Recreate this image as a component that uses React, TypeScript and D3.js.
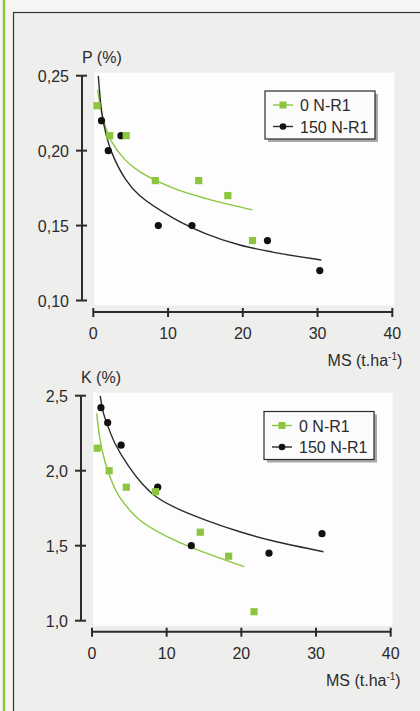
import React from "react";
import * as d3 from "d3";

// P (%) chart – measured points
const pGreenX = [0.5, 2.2, 4.4, 8.3, 14.1, 18.0, 21.3];
const pGreenY = [0.23, 0.21, 0.21, 0.18, 0.18, 0.17, 0.14];
const pBlackX = [1.1, 2.0, 3.7, 8.7, 13.2, 23.3, 30.3];
const pBlackY = [0.22, 0.2, 0.21, 0.15, 0.15, 0.14, 0.12];
// P (%) chart – fitted curves
const pGreenFitX = [0.58, 1.33, 2.45, 4.23, 6.2, 10.7, 15.1, 21.3];
const pGreenFitY = [0.2405, 0.221, 0.206, 0.194, 0.186, 0.175, 0.168, 0.1605];
const pBlackFitX = [0.67, 1.12, 1.65, 2.45, 4.3, 6.2, 10.7, 15.1, 19.6, 24.0, 30.5];
const pBlackFitY = [0.25, 0.226, 0.212, 0.199, 0.181, 0.17, 0.155, 0.1445, 0.137, 0.1323, 0.127];

// K (%) chart – measured points
const kGreenX = [0.7, 2.3, 4.6, 8.5, 14.5, 18.3, 21.7];
const kGreenY = [2.15, 2.0, 1.89, 1.86, 1.59, 1.43, 1.06];
const kBlackX = [1.2, 2.1, 3.9, 8.8, 13.3, 23.7, 30.8];
const kBlackY = [2.42, 2.32, 2.17, 1.89, 1.5, 1.45, 1.58];
// K (%) chart – fitted curves
const kGreenFitX = [0.63, 1.07, 1.74, 2.64, 3.75, 6.43, 10.9, 15.4, 20.4];
const kGreenFitY = [2.383, 2.21, 2.06, 1.93, 1.82, 1.67, 1.54, 1.449, 1.36];
const kBlackFitX = [1.1, 1.5, 2.1, 3.1, 4.9, 6.6, 8.5, 10.9, 15.4, 19.8, 24.3, 31.0];
const kBlackFitY = [2.5, 2.39, 2.3, 2.18, 2.03, 1.92, 1.83, 1.76, 1.667, 1.593, 1.531, 1.46];

const xTicks = [0, 10, 20, 30, 40];
const pTicks = [0.1, 0.15, 0.2, 0.25];
const kTicks = [1.0, 1.5, 2.0, 2.5];
const seriesNames = ["0 N-R1", "150 N-R1"];

const GREEN = "#8cc63f";
const INK = "#2b2b2b";
const FONT = "'Liberation Sans', Arial, Helvetica, sans-serif";

const zip = (xs, ys) => xs.map((x, i) => [x, ys[i]]);

const Panel = ({ top, axisX, xAxisY, xLeft, xRight, yTop, yBot, yDomain, yTicks, yFmt, yLabel, legendX, legendY, green, black, greenFit, blackFit }) => {
    const x = d3.scaleLinear().domain([0, 40]).range([xLeft, xRight]);
    const y = d3.scaleLinear().domain(yDomain).range([yBot, yTop]);
    const line = d3.line().x(d => x(d[0])).y(d => y(d[1])).curve(d3.curveCatmullRom.alpha(0.5));
    const clipId = `clip-${top}`;

    return (
        <g>
            <clipPath id={clipId}>
                <rect x={axisX} y={yTop} width={xRight - axisX + 10} height={yBot - yTop + 10} />
            </clipPath>
            {/* white plot area */}
            <rect x={xLeft + 1} y={yTop - 3} width={xRight - xLeft + 1} height={yBot - yTop + 8} fill="#fdfdfd" />

            {/* axis titles */}
            <text x={axisX} y={yTop - 13} fontSize={16} fill={INK} fontFamily={FONT}>{yLabel}</text>
            <text x={xRight + 10} y={xAxisY + 54} textAnchor="end" fontSize={16} fill={INK} fontFamily={FONT}>
                MS (t.ha<tspan dy={-6} fontSize={10}>-1</tspan><tspan dy={6}>)</tspan>
            </text>

            {/* Y axis */}
            <line x1={axisX} x2={axisX} y1={yTop} y2={yBot} stroke={INK} strokeWidth={2} />
            {yTicks.map((t, i) => (
                <g key={i} transform={`translate(${axisX}, ${y(t)})`}>
                    <line x1={-6} x2={5} stroke={INK} strokeWidth={2} />
                    <text x={-13} y={6} textAnchor="end" fontSize={16} fill={INK} fontFamily={FONT}>{yFmt(t)}</text>
                </g>
            ))}

            {/* X axis */}
            <line x1={xLeft} x2={xRight} y1={xAxisY} y2={xAxisY} stroke={INK} strokeWidth={2} />
            {xTicks.map((t, i) => (
                <g key={i} transform={`translate(${x(t)}, ${xAxisY})`}>
                    <line y1={-4} y2={5} stroke={INK} strokeWidth={2} />
                    <text y={27} textAnchor="middle" fontSize={16} fill={INK} fontFamily={FONT}>{t}</text>
                </g>
            ))}

            {/* fitted curves */}
            <g clipPath={`url(#${clipId})`}>
                <path d={line(greenFit)} fill="none" stroke={GREEN} strokeWidth={1.4} />
                <path d={line(blackFit)} fill="none" stroke={INK} strokeWidth={1.4} />
            </g>

            {/* points */}
            {black.map((d, i) => (
                <circle key={`b${i}`} cx={x(d[0])} cy={y(d[1])} r={3.6} fill="#111" />
            ))}
            {green.map((d, i) => (
                <rect key={`g${i}`} x={x(d[0]) - 3.6} y={y(d[1]) - 3.6} width={7.2} height={7.2} fill={GREEN} />
            ))}

            {/* legend */}
            <g transform={`translate(${legendX}, ${legendY})`}>
                <rect x={3} y={3} width={110} height={48} fill="#a8a8a8" />
                <rect x={0} y={0} width={110} height={48} fill="#fbfbfb" stroke={INK} strokeWidth={1.2} />
                {seriesNames.map((name, i) => (
                    <g key={i} transform={`translate(0, ${14 + i * 21.5})`}>
                        <line x1={8} x2={28} stroke={i === 0 ? GREEN : INK} strokeWidth={1.4} />
                        {i === 0
                            ? <rect x={14.5} y={-3.5} width={7} height={7} fill={GREEN} />
                            : <circle cx={18} cy={0} r={3.3} fill="#111" />}
                        <text x={35} y={6} fontSize={16} fill={INK} fontFamily={FONT}>{name}</text>
                    </g>
                ))}
            </g>
        </g>
    );
};

const fmt = (digits) => (v) => v.toFixed(digits).replace(".", ",");

export default function App() {
    return (
        <svg width={420} height={711} viewBox="0 0 420 711" style={{ position: "absolute", left: 0, top: 0 }}>
            <rect width={420} height={711} fill="#f5f5f4" />
            <rect x={13.5} y={12.5} width={420} height={720} fill="#eeeeed" stroke="#333" strokeWidth={1.2} />
            <line x1={4} x2={4} y1={0} y2={711} stroke={GREEN} strokeWidth={2.5} />

            <Panel
                top="p" axisX={82} xAxisY={312} xLeft={93.3} xRight={392.3} yTop={75.7} yBot={300.5}
                yDomain={[0.1, 0.25]} yTicks={pTicks} yFmt={fmt(2)} yLabel="P (%)"
                legendX={265} legendY={91}
                green={zip(pGreenX, pGreenY)} black={zip(pBlackX, pBlackY)}
                greenFit={zip(pGreenFitX, pGreenFitY)} blackFit={zip(pBlackFitX, pBlackFitY)}
            />
            <Panel
                top="k" axisX={81} xAxisY={631.7} xLeft={92} xRight={390.7} yTop={395.7} yBot={620.7}
                yDomain={[1.0, 2.5]} yTicks={kTicks} yFmt={fmt(1)} yLabel="K (%)"
                legendX={264} legendY={411.5}
                green={zip(kGreenX, kGreenY)} black={zip(kBlackX, kBlackY)}
                greenFit={zip(kGreenFitX, kGreenFitY)} blackFit={zip(kBlackFitX, kBlackFitY)}
            />
        </svg>
    );
}
